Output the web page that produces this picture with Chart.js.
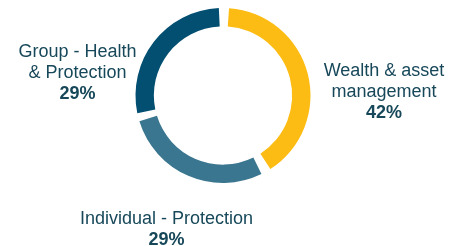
<!DOCTYPE html>
<html>

<head>
    <meta charset="UTF-8">
    <title>Business mix</title>
    <style>
        html, body { margin: 0; padding: 0; background: #ffffff; }
        #wrap { width: 449px; height: 246px; position: relative; }
    </style>
</head>

<body>
    <div id="wrap"><canvas id="chart"></canvas></div>
    <script src="https://cdn.jsdelivr.net/npm/chart.js"></script>
    <script>
        const categories = [['Wealth & asset', 'management'], ['Individual - Protection'], ['Group - Health', '& Protection']];
        const shares = [42, 29, 29];
        const shareLabels = ['42%', '29%', '29%'];
        const colours = ['#FCBC14', '#3A768F', '#034F71'];

        // baseline of each label's first line, relative to the ring's centre
        const labelSpots = [
            { dx: 161, dy: -19.5 },
            { dx: -56.5, dy: 128.5 },
            { dx: -145.5, dy: -38.5 },
        ];

        const outsideLabels = {
            id: 'outsideLabels',
            afterDraw(chart) {
                const ctx = chart.ctx;
                const arcs = chart.getDatasetMeta(0).data;
                const cx = arcs[0].x;
                const cy = arcs[0].y;
                ctx.save();
                ctx.fillStyle = '#17485A';
                ctx.textAlign = 'center';
                ctx.textBaseline = 'alphabetic';
                categories.forEach((lines, i) => {
                    const x = cx + labelSpots[i].dx;
                    let y = cy + labelSpots[i].dy;
                    ctx.font = '18px "Liberation Sans", Arial, sans-serif';
                    lines.forEach((line) => {
                        ctx.fillText(line, x, y);
                        y += 21;
                    });
                    ctx.font = 'bold 18px "Liberation Sans", Arial, sans-serif';
                    ctx.fillText(shareLabels[i], x, y);
                });
                ctx.restore();
            }
        };

        new Chart(document.getElementById('chart'), {
            type: 'doughnut',
            data: {
                labels: categories.map((c) => c.join(' ')),
                datasets: [{
                    data: shares,
                    backgroundColor: colours,
                    borderWidth: 0,
                    spacing: 8,
                }],
            },
            options: {
                responsive: true,
                maintainAspectRatio: false,
                animation: false,
                cutout: '78%',
                layout: {
                    padding: { left: 135.5, right: 138.5, top: 8, bottom: 63 },
                },
                plugins: {
                    legend: { display: false },
                    tooltip: { enabled: false },
                },
            },
            plugins: [outsideLabels],
        });
    </script>
</body>

</html>
